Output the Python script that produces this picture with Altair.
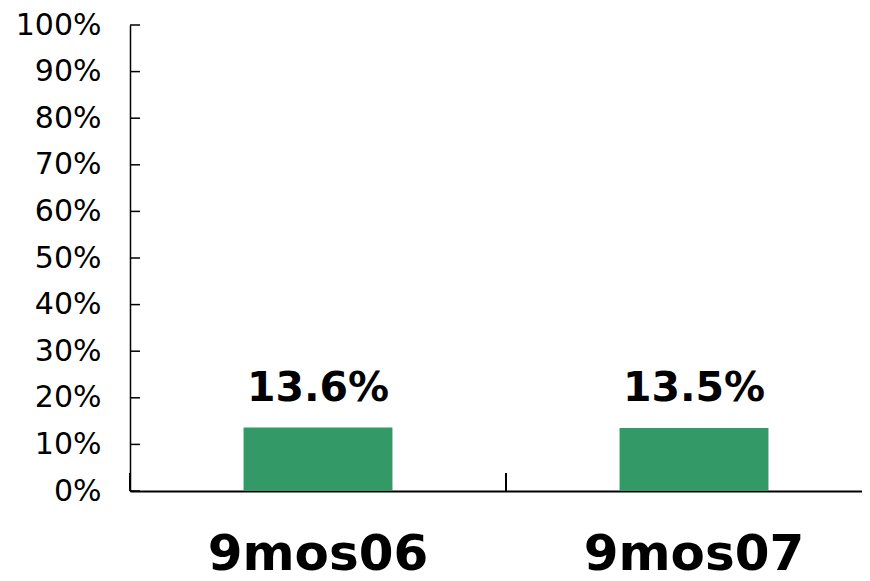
import altair as alt
import pandas as pd

categories = ["9mos06", "9mos07"]
values = [0.136, 0.135]
y_ticks = [0.0, 0.1, 0.2, 0.3, 0.4, 0.5, 0.6, 0.7, 0.8, 0.9, 1.0]

FONT = "DejaVu Sans"
GREEN = "#339966"

df = pd.DataFrame({"cat": categories, "val": values})
ticks_df = pd.DataFrame({"t": y_ticks})
cat_df = pd.DataFrame({"cat": categories})

xscale = alt.Scale(domain=categories, range=[0, 752], paddingInner=0.604, paddingOuter=0.302)
yscale = alt.Scale(domain=[0, 1])

bars = alt.Chart(df).mark_bar(color=GREEN).encode(
    x=alt.X("cat:N", scale=xscale, sort=categories,
            axis=alt.Axis(title=None, labelAngle=0, labelFontSize=50, labelFontWeight="bold",
                          labelFont=FONT, labelColor="black", ticks=False, domainColor="black",
                          domainWidth=2, labelPadding=78, labelBaseline="alphabetic",
                          labelLimit=0)),
    y=alt.Y("val:Q", scale=yscale,
            axis=alt.Axis(title=None, values=y_ticks, format="%", ticks=False, grid=False,
                          labelFontSize=30, labelFont=FONT, labelColor="black",
                          domainColor="black", domainWidth=1.5, labelPadding=29,
                          labelLimit=0)),
)

labels = alt.Chart(df).mark_text(dy=-27, baseline="alphabetic", fontSize=41, fontWeight="bold",
                                 font=FONT, color="black").encode(
    x=alt.X("cat:N", scale=xscale, sort=categories, axis=None),
    y=alt.Y("val:Q", scale=yscale, title=None),
    text=alt.Text("val:Q", format=".1%"),
)

yt = alt.Chart(ticks_df).mark_rule(color="black", strokeWidth=1.5).encode(
    y=alt.Y("t:Q", scale=yscale, title=None),
    x=alt.value(0), x2=alt.value(10),
)

ct = alt.Chart(cat_df).mark_rule(color="black", strokeWidth=2).encode(
    x=alt.X("cat:N", bandPosition=0, sort=categories,
            scale=alt.Scale(domain=categories, range=[0, 752], paddingInner=0, paddingOuter=0),
            axis=None),
    y=alt.value(448), y2=alt.value(466),
)

chart = alt.layer(bars, labels, yt, ct).resolve_scale(x="independent").properties(
    width=732, height=466,
    padding={"left": 122, "top": 17, "right": 0, "bottom": 90},
    autosize=alt.AutoSizeParams(type="none"),
).configure_view(stroke=None)

chart.save("out.html", embed_options={"renderer": "svg", "actions": False})
